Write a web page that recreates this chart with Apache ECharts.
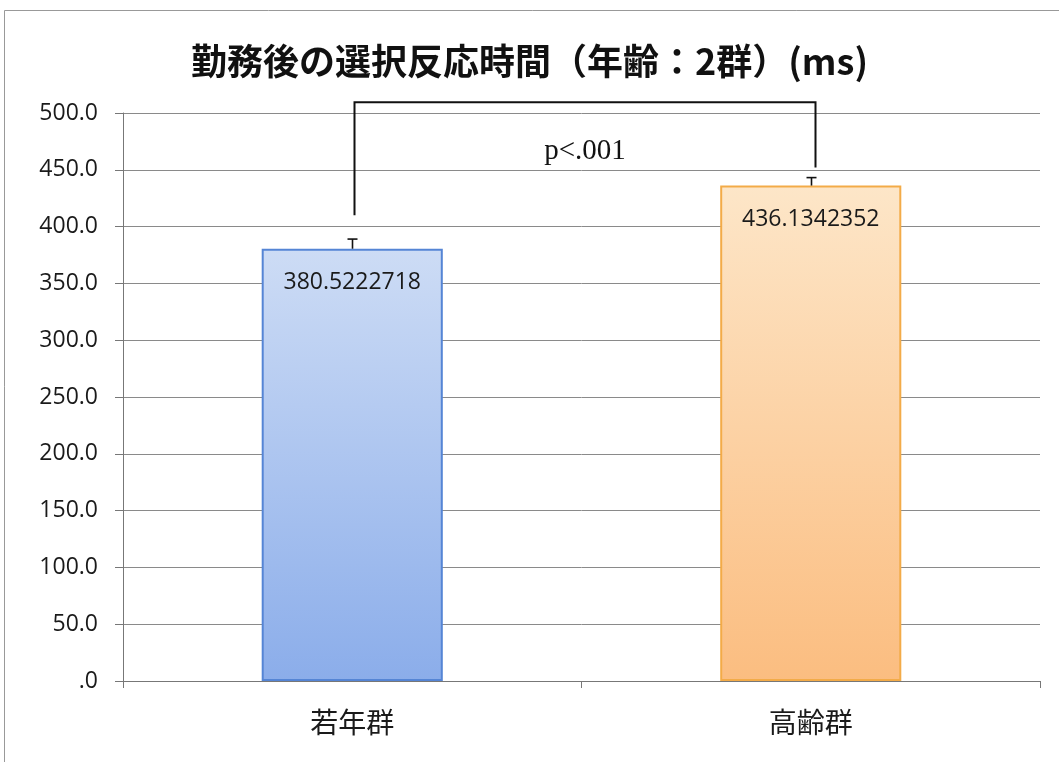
<!DOCTYPE html>
<html>
<head>
<meta charset="utf-8">
<script src="https://cdn.jsdelivr.net/npm/echarts@6/dist/echarts.min.js"></script>
<style>
html,body{margin:0;padding:0;background:#fff;}
#chart{width:1059px;height:762px;}
</style>
</head>
<body>
<div id="chart"></div>
<script>
const titleText = '勤務後の選択反応時間（年齢：2群）(ms)';
const categories = ['若年群', '高齢群'];
const means = [380.5222718, 436.1342352];
const errors = [8.5, 7.0];
const bracketTop = 509.5;
const bracketLegBottoms = [410, 452];
const pLabel = 'p<.001';
const pLabelValue = 466;
const yTicks = { min: 0, max: 500, interval: 50 };

const barColors = [
  { top: '#cddcf5', bottom: '#8badea', border: '#5585d5' },
  { top: '#fde6c8', bottom: '#fbbd80', border: '#f3ab48' }
];

const chart = echarts.init(document.getElementById('chart'));

const option = {
  backgroundColor: '#ffffff',
  animation: false,
  title: {
    text: titleText,
    left: 'center',
    top: 38,
    textStyle: {
      fontFamily: '"Noto Sans CJK JP", sans-serif',
      fontWeight: 'bold',
      fontSize: 36,
      color: '#111'
    }
  },
  graphic: [{
    type: 'rect',
    silent: true,
    z: -10,
    shape: { x: 4.5, y: 10.5, width: 1100, height: 800 },
    style: { fill: 'none', stroke: '#999', lineWidth: 1 }
  }],
  grid: { left: 123, right: 19, top: 113, bottom: 81 },
  xAxis: {
    type: 'category',
    data: categories,
    axisLine: { lineStyle: { color: '#777', width: 1 } },
    axisTick: { show: true, alignWithLabel: false, length: 7, lineStyle: { color: '#777' } },
    axisLabel: {
      margin: 27,
      fontFamily: '"Noto Sans CJK JP", sans-serif',
      fontSize: 28,
      color: '#1a1a1a'
    }
  },
  yAxis: {
    type: 'value',
    min: yTicks.min,
    max: yTicks.max,
    interval: yTicks.interval,
    axisLine: { show: true, lineStyle: { color: '#777', width: 1 } },
    axisTick: { show: true, length: 8, lineStyle: { color: '#777' } },
    splitLine: { show: true, lineStyle: { color: '#8a8a8a', width: 1 } },
    axisLabel: {
      margin: 25,
      fontFamily: '"Open Sans", "Noto Sans", sans-serif',
      fontSize: 23,
      color: '#1a1a1a',
      formatter: v => v === 0 ? '.0' : v.toFixed(1)
    }
  },
  series: [
    {
      type: 'bar',
      barWidth: '39.5%',
      data: means.map((v, i) => ({
        value: v,
        itemStyle: {
          color: new echarts.graphic.LinearGradient(0, 0, 0, 1, [
            { offset: 0, color: barColors[i].top },
            { offset: 1, color: barColors[i].bottom }
          ]),
          borderColor: barColors[i].border,
          borderWidth: 2
        }
      })),
      label: {
        show: true,
        position: 'insideTop',
        distance: 22,
        fontFamily: '"Open Sans", "Noto Sans", sans-serif',
        fontSize: 23,
        color: '#1a1a1a',
        formatter: p => String(means[p.dataIndex])
      },
      z: 2
    },
    {
      type: 'custom',
      z: 5,
      data: means.map((v, i) => [i, v, errors[i]]),
      renderItem: (params, api) => {
        const x = api.value(0);
        const base = api.coord([x, api.value(1)]);
        const top = api.coord([x, api.value(1) + api.value(2)]);
        const cx = Math.round(base[0]) + 0.5;
        return {
          type: 'group',
          children: [
            { type: 'line', shape: { x1: cx, y1: base[1], x2: cx, y2: top[1] }, style: { stroke: '#111', lineWidth: 1.6 } },
            { type: 'line', shape: { x1: cx - 5, y1: top[1], x2: cx + 5, y2: top[1] }, style: { stroke: '#111', lineWidth: 1.6 } }
          ]
        };
      }
    },
    {
      type: 'custom',
      z: 6,
      data: [[0, 1, bracketTop, bracketLegBottoms[0], bracketLegBottoms[1], pLabelValue]],
      renderItem: (params, api) => {
        const l = api.coord([api.value(0), api.value(3)]);
        const r = api.coord([api.value(1), api.value(4)]);
        const yTop = api.coord([0, api.value(2)])[1];
        const yText = api.coord([0, api.value(5)])[1];
        const lx = Math.round(l[0]) + 2.5;
        const rx = Math.round(r[0]) + 4.5;
        return {
          type: 'group',
          children: [
            { type: 'polyline', shape: { points: [[lx, l[1]], [lx, yTop], [rx, yTop], [rx, r[1]]] }, style: { stroke: '#111', lineWidth: 2, fill: 'none' } },
            { type: 'text', x: (lx + rx) / 2, y: yText, style: { text: pLabel, fontFamily: '"Liberation Serif", "DejaVu Serif", serif', fontSize: 29, fill: '#111', textAlign: 'center', textVerticalAlign: 'middle' } }
          ]
        };
      }
    }
  ]
};

chart.setOption(option);
</script>
</body>
</html>
